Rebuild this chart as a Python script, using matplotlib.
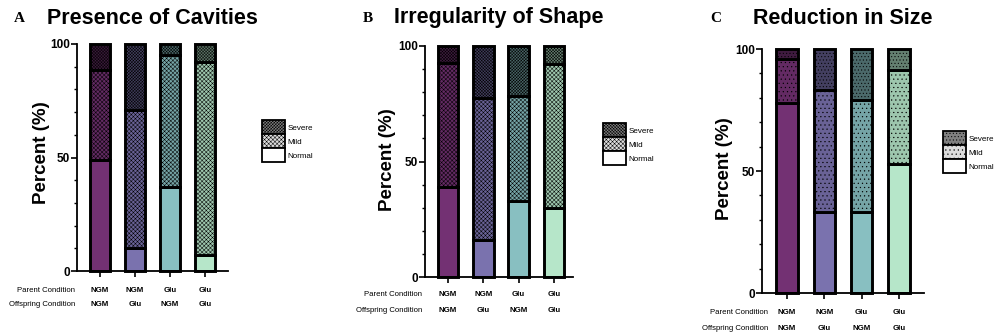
import numpy as np
import matplotlib
matplotlib.use("Agg")
import matplotlib.pyplot as plt
from matplotlib.patches import Patch
from matplotlib.ticker import MultipleLocator

plt.rcParams["font.family"] = ["Liberation Sans", "DejaVu Sans"]
plt.rcParams["hatch.linewidth"] = 0.35

# ---- data (percent of animals per category) ----
parent = ["NGM", "NGM", "Glu", "Glu"]
offspring = ["NGM", "Glu", "NGM", "Glu"]
levels = ["Normal", "Mild", "Severe"]

cavities_normal = [49, 10, 37, 7]
cavities_mild = [39.5, 61, 58, 85]
cavities_severe = [11.5, 29, 5, 8]

shape_normal = [39, 16, 33, 30]
shape_mild = [53.5, 61.5, 45.5, 62]
shape_severe = [7.5, 22.5, 21.5, 8]

size_normal = [78, 33, 33, 53]
size_mild = [18, 50, 46, 38.5]
size_severe = [4, 17, 21, 8.5]

bar_colors = ["#733173", "#7a72ae", "#88bfc1", "#b6e6c9"]


def darker(c, f):
    rgb = np.array(matplotlib.colors.to_rgb(c))
    return tuple(rgb * (1 - f))


def panel(rect, xlim, letter_x, title, normal, mild, severe, hatches, row_dy,
          label_dx, ylabel_xy, legend_xy, letter):
    ax = fig.add_axes(rect)
    x = np.arange(len(normal))
    normal = np.array(normal, float)
    mild = np.array(mild, float)
    severe = np.array(severe, float)
    w = 0.58
    for i in x:
        base = bar_colors[i]
        ax.bar(i, normal[i], w, color=base, edgecolor="black", lw=2.1,
               clip_on=False, zorder=2)
        ax.bar(i, mild[i], w, bottom=normal[i], color=darker(base, 0.14),
               edgecolor="black", lw=2.1, hatch=hatches[0], clip_on=False,
               zorder=2)
        ax.bar(i, severe[i], w, bottom=normal[i] + mild[i],
               color=darker(base, 0.45), edgecolor="black", lw=2.1,
               hatch=hatches[1], clip_on=False, zorder=2)

    ax.set_xlim(*xlim)
    ax.set_ylim(0, 100)
    ax.set_xticks(x)
    ax.set_xticklabels([])
    ax.tick_params(axis="x", length=4, width=1.2)
    ax.set_yticks([0, 50, 100])
    ax.yaxis.set_minor_locator(MultipleLocator(10))
    ax.tick_params(axis="y", which="major", length=4, width=1.2, labelsize=8.5,
                   pad=1)
    ax.tick_params(axis="y", which="minor", length=2.5, width=1.0)
    for t in ax.get_yticklabels():
        t.set_fontweight("bold")
    for s in ("top", "right"):
        ax.spines[s].set_visible(False)
    for s in ("left", "bottom"):
        ax.spines[s].set_linewidth(1.3)

    ax.set_ylabel("Percent (%)", fontsize=13.5, fontweight="bold")
    ax.yaxis.set_label_coords(*ylabel_xy)

    # condition rows under the bars
    for row, (name, vals) in enumerate([("Parent Condition", parent),
                                        ("Offspring Condition", offspring)]):
        dy = row_dy[row] * 0.72
        ax.annotate(name, xy=(0, 0), xycoords="axes fraction",
                    xytext=(label_dx * 0.72, dy), textcoords="offset points",
                    ha="right", va="center", fontsize=5.6)
        for i, v in enumerate(vals):
            ax.annotate(v, xy=(i, 0), xycoords=("data", "axes fraction"),
                        xytext=(0, dy), textcoords="offset points",
                        ha="center", va="center", fontsize=5.7,
                        fontweight="bold")

    # title and panel letter
    cx = rect[0] + rect[2] / 2
    fig.text(cx, 1 - 18 / 333, title, ha="center", va="center",
             fontsize=15.5, fontweight="bold")
    fig.text(letter_x / 998, 1 - 19 / 333, letter,
             ha="center", va="center", fontsize=11, fontweight="bold",
             family=["Liberation Serif", "DejaVu Serif"])

    handles = [
        Patch(facecolor="#808080", edgecolor="black", hatch=hatches[1], lw=1.3),
        Patch(facecolor="#dcdcdc", edgecolor="black", hatch=hatches[0], lw=1.3),
        Patch(facecolor="white", edgecolor="black", lw=1.3),
    ]
    ax.legend(handles, ["Severe", "Mild", "Normal"], loc="upper left",
              bbox_to_anchor=(legend_xy[0] / 998, 1 - legend_xy[1] / 333),
              bbox_transform=fig.transFigure, frameon=False, fontsize=5.8,
              handlelength=2.85, handleheight=2.3, labelspacing=0,
              handletextpad=0.3, borderpad=0, borderaxespad=0)
    return ax


fig = plt.figure(figsize=(9.98, 3.33), dpi=100)

panel([77 / 998, 1 - 271 / 333, 151 / 998, 227 / 333], (-0.657, 3.657),
      19, "Presence of Cavities", cavities_normal, cavities_mild,
      cavities_severe, ("xxxxxxxx", "xxxxxxxxxxx"), (-20, -34), -2,
      (-0.179, 0.52), (262, 120), "A")
panel([425 / 998, 1 - 277 / 333, 148 / 998, 231 / 333], (-0.65, 3.54),
      368, "Irregularity of Shape", shape_normal, shape_mild, shape_severe,
      ("xxxxxxxx", "xxxxxxxxxxx"), (-18, -33), -3, (-0.196, 0.51),
      (603, 123), "B")
panel([762 / 998, 1 - 293 / 333, 162 / 998, 244 / 333], (-0.67, 3.67),
      716, "Reduction in Size", size_normal, size_mild, size_severe,
      ("....", "....."), (-20, -35), 6, (-0.179, 0.508), (943, 131), "C")

fig.savefig("out.png", dpi=100)
